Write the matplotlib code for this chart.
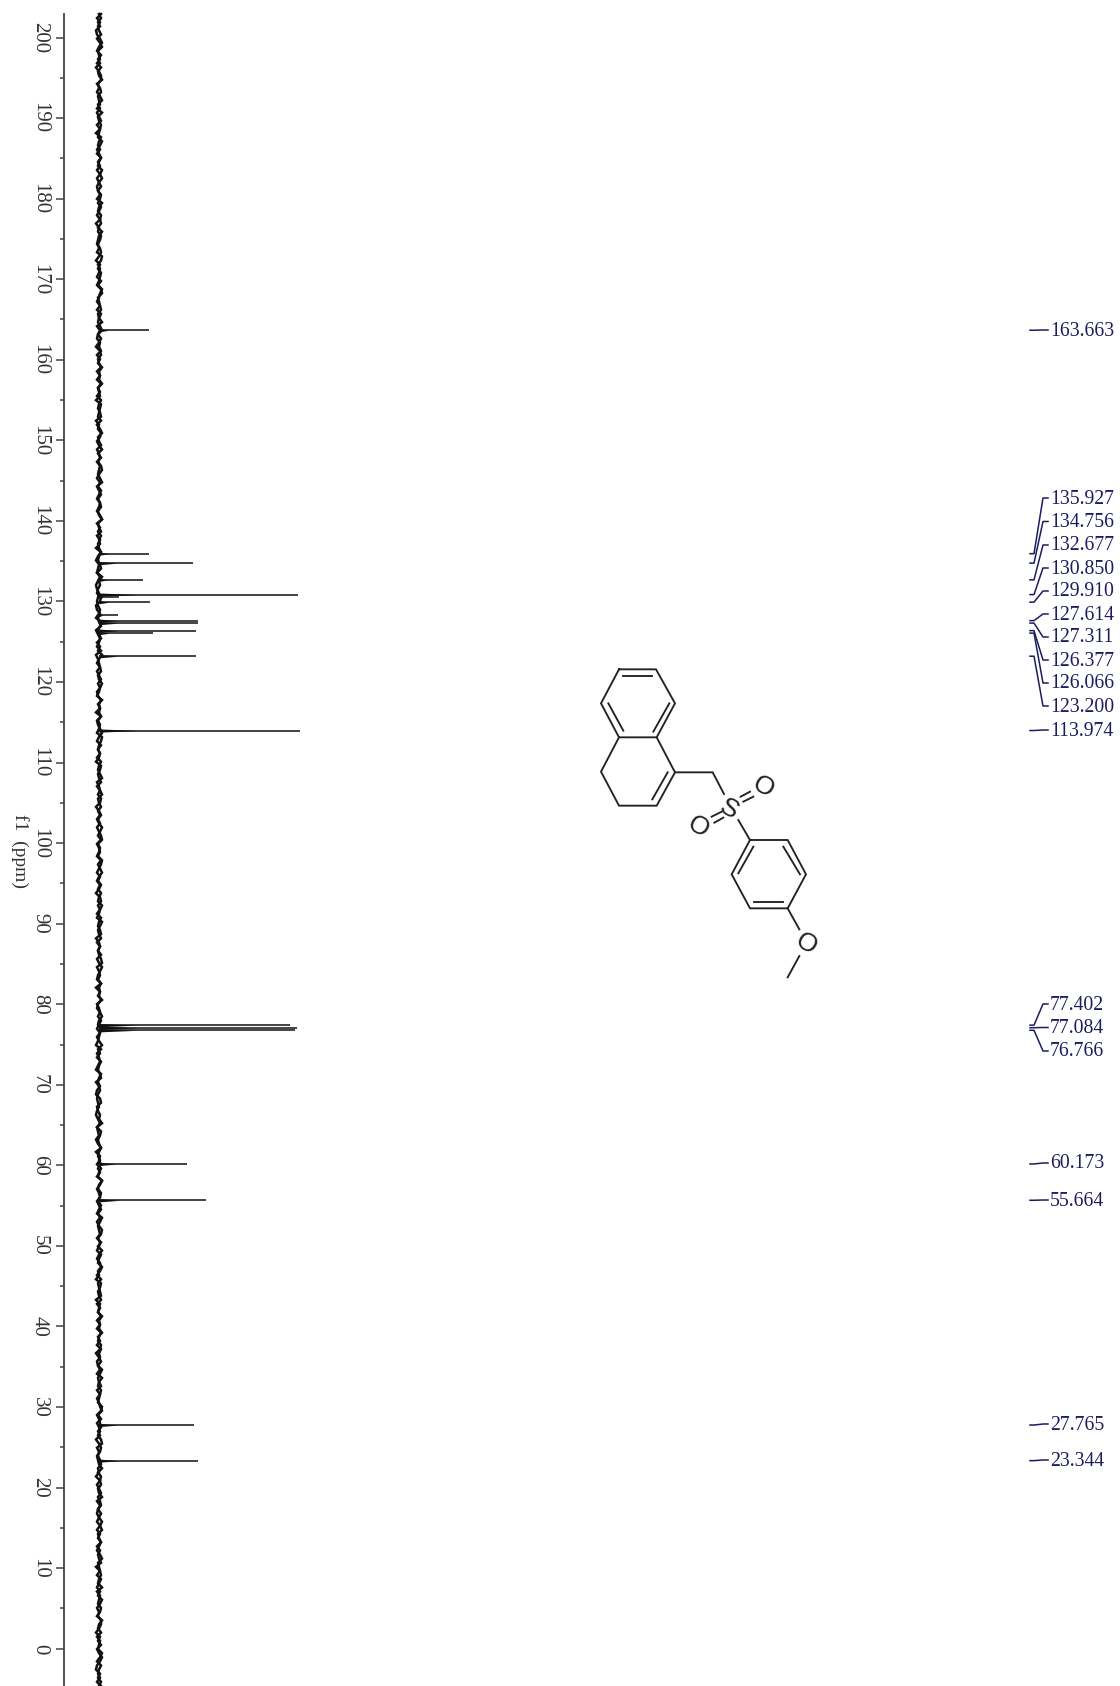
import numpy as np
import matplotlib
matplotlib.use('Agg')
import matplotlib.pyplot as plt
from matplotlib.ticker import MultipleLocator

# peaks of the spectrum
peak_ppm = [163.663, 135.927, 134.756, 132.677, 130.850, 130.5, 129.910, 128.3, 127.614,
            127.311, 126.377, 126.066, 123.200, 113.974, 77.402, 77.084, 76.766,
            60.173, 55.664, 27.765, 23.344]
peak_height = [50, 50, 94, 44, 199, 20, 51, 19, 99, 99, 97, 54, 97, 201, 191, 198, 196, 88, 107, 95, 99]

# baseline wiggle, from 203 ppm down to -4.6 ppm
baseline = [
    0, 2, -1, 1, -3, -2, 1, 3, 0, -2, 2, -1, 1, -3, 0, 2, 2, -1, 0, -2, 1, 3, -1, 1,
    -2, 0, 2, -2, 1, 0, -1, 3, 1, -2, 0, 2, -1, 1, -2, 1, 3, 0, -2, -1, 2, 1, -1, 2,
    0, -2, 1, 2, -1, 3, 0, -1, -2, 1, 2, 0, -3, 1, -1, 2, 1, 0, -2, 2, 3, -1, 0, 1,
    -2, 2, 0, -1, 1, 3, -1, -2, 1, 0, 2, -2, 1, -1, 3, 0, 1, -2, 2, -1, 0, 1, -3, 2,
    1, 0, -1, 2, -2, 1, 3, -1, 0, 2, -2, 0, 1, -1, 2, 3, 0, -2, 1, -1, 2, 0, -2, 1,
    2, -1, 0, 3, -2, 1, -1, 2, 0, 1, -3, 2, 0, -1, 1, 2, -2, 3, 0, 1, -1, -2, 2, 1,
    -3, -2, 1, -1, 0, 2, -3, -1, 1, 0, -2, 2, -3, -1, 0, 1, -2, 0, 2, -1, 1, 0, -2, 3,
    -1, 1, 0, 2, -2, -1, 1, 3, 0, -2, 2, -1, 1, 0, -3, 2, 1, -1, 0, 2, -2, 1, 3, -1,
    0, 2, -1, 1, -2, 0, 3, 1, -1, 2, -2, 0, 1, -1, 3, 2, 0, -2, 1, -1, 2, 0, -3, 1,
    2, -1, 1, 0, -2, 3, 1, -1, 0, 2, -2, 1, -1, 0, 2, 3, -2, 0, 1, -1, 2, -3, 1, 0,
    2, -1, -2, 1, 3, 0, -1, 2, 1, -2, 0, 3, -1, 1, -2, 2, 0, -1, 1, 2, -3, 0, 1, -1,
    -2, -1, 0, -2, -3, -1, 1, -2, -1, 0, -3, -1, 2, 0, -1, 1, -2, 2, 0, -1, 3, 1, -2, 0,
    1, -1, 2, 0, -2, 3, 1, -1, 0, 1, -2, 2, -1, 3, 0, -2, 1, 2, -1, 0, -3, 2, 1, -1,
    0, 2, -2, 1, -1, 3, 0, 1, -2, 2, 0, -1, 2, 1, -3, 0, 2, -1, 1, -2, 3, 0, -1, 2,
    1, -2, 0, 1, 3, -1, 2, -2, 0, 1, -1, 2, 3, -2, 0, -1, 1, 2, -1, 0, -3, 1, 2, -1,
    0, 3, -2, 1, -1, 2, 0, -2, 1, 3, -1, 0, 2, -2, 1, -1, 0, 2, -3, 1, 2, 0, -1, 3,
    -2, 1, 0, -1, 2, 1, -2, 3, 0, -1, 2, -2, 1, 0, -1, 3, 1, -2, 2, 0, -1, 1, -2, 2,
]

# peak labels and the pixel row each one sits on
label_text = ['163.663', '135.927', '134.756', '132.677', '130.850', '129.910', '127.614', '127.311',
              '126.377', '126.066', '123.200', '113.974', '77.402', '77.084', '76.766',
              '60.173', '55.664', '27.765', '23.344']
label_ppm = [163.663, 135.927, 134.756, 132.677, 130.850, 129.910, 127.614, 127.311, 126.377,
             126.066, 123.200, 113.974, 77.402, 77.084, 76.766, 60.173, 55.664, 27.765, 23.344]
label_row = [330, 498, 521.5, 545, 568, 591, 614, 637, 660, 683, 706, 730,
             1004, 1027.5, 1051, 1163, 1200, 1424, 1460]

tick_major = 10
tick_minor = 5

W, H = 1120, 1686
PX_PER_PPM = 8.056
ZERO_ROW = 1648.7
AXIS_COL = 64
BASE_COL = 99
NAVY = '#1c1c60'


def row_to_ppm(row):
    return (ZERO_ROW - row) / PX_PER_PPM


plt.rcParams['font.family'] = ['Liberation Serif', 'DejaVu Serif']
plt.rcParams['path.simplify'] = False
fig = plt.figure(figsize=(W / 100, H / 100), dpi=100)

ax = fig.add_axes([AXIS_COL / W, 0, 1 - AXIS_COL / W, 1])
ax.set_ylim(row_to_ppm(H), row_to_ppm(0))
ax.set_xlim(AXIS_COL - BASE_COL, W - BASE_COL)

# spectrum: thick noisy baseline, then thin peaks with a small skirt
base_ppm = np.linspace(row_to_ppm(14), row_to_ppm(H), len(baseline))
ax.plot(baseline, base_ppm, color='#111111', lw=1.8, solid_joinstyle='miter')
ax.plot(baseline[::-1], base_ppm, color='#111111', lw=1.8, solid_joinstyle='miter')
ax.hlines(peak_ppm, 0, peak_height, color='#111111', lw=1.1)
for p, h in zip(peak_ppm, peak_height):
    ax.fill_betweenx([p + 0.2, p, p - 0.2], 0, [0, h * 0.2, 0], color='#111111', lw=0)

ax.yaxis.set_major_locator(MultipleLocator(tick_major))
ax.yaxis.set_minor_locator(MultipleLocator(tick_minor))
ax.set_xticks([])
for s in ['top', 'right', 'bottom']:
    ax.spines[s].set_visible(False)
ax.spines['left'].set_color('#444444')
ax.spines['left'].set_linewidth(1.3)
ax.spines['left'].set_bounds(row_to_ppm(H), row_to_ppm(14))
ax.tick_params(axis='y', which='major', length=5.8, width=1.1, color='#444444', pad=5,
               labelsize=15, labelcolor='#333333')
ax.tick_params(axis='y', which='minor', length=2.9, width=1.1, color='#444444')
for t in ax.get_yticklabels():
    t.set_rotation(270)
    t.set_va('center')
ax.set_ylabel('f1  (ppm)', rotation=270, fontsize=14, color='#333333', va='center', ha='center')
ax.yaxis.set_label_coords((20 - AXIS_COL) / (W - AXIS_COL), 1 - 851 / H)

# overlay in pixel rows for the peak labels and the drawn structure
ov = fig.add_axes([0, 0, 1, 1])
ov.set_xlim(0, W)
ov.set_ylim(H, 0)
ov.axis('off')
ov.patch.set_alpha(0)

for txt, row, p in zip(label_text, label_row, label_ppm):
    ov.text(1050, row + 1, txt, color=NAVY, fontsize=14.2, va='center', ha='left')
    peak_row = ZERO_ROW - p * PX_PER_PPM
    ov.plot([1030, 1034, 1043, 1048], [peak_row, peak_row, row, row], color=NAVY, lw=1.1)

# structure, zoom coordinates of the drawing
bonds = [
    [(147, 88), (258, 88), (315, 190), (260, 292), (147, 292), (93, 190), (147, 88)],
    [(160, 108), (245, 108)], [(115, 190), (160, 272)], [(298, 190), (250, 275)],
    [(147, 292), (93, 395), (147, 497), (260, 497), (315, 397), (260, 292)],
    [(293, 397), (247, 478)],
    [(315, 397), (428, 397), (462, 462)],
    [(425, 530), (455, 515)], [(433, 548), (460, 533)],
    [(512, 470), (540, 455)], [(520, 485), (550, 470)],
    [(505, 540), (540, 600)],
    [(540, 600), (653, 600), (708, 703), (653, 805), (540, 805), (485, 703), (540, 600)],
    [(550, 620), (505, 700)], [(640, 620), (690, 703)], [(553, 785), (640, 785)],
    [(653, 805), (688, 868)], [(688, 948), (653, 1012)],
]
for b in bonds:
    xs = [570 + q[0] / 3 for q in b]
    ys = [640 + q[1] / 3 for q in b]
    ov.plot(xs, ys, color='#222222', lw=1.35, solid_joinstyle='miter')
for sym, zx, zy, rot in [('S', 478, 505, -30), ('O', 385, 557, -30), ('O', 578, 438, -30), ('O', 707, 908, -30)]:
    ov.text(570 + zx / 3, 640 + zy / 3 + 1, sym, family='Liberation Sans', fontsize=19, color='#222222',
            ha='center', va='center', rotation=rot, rotation_mode='anchor')

fig.savefig('out.png', dpi=100)
